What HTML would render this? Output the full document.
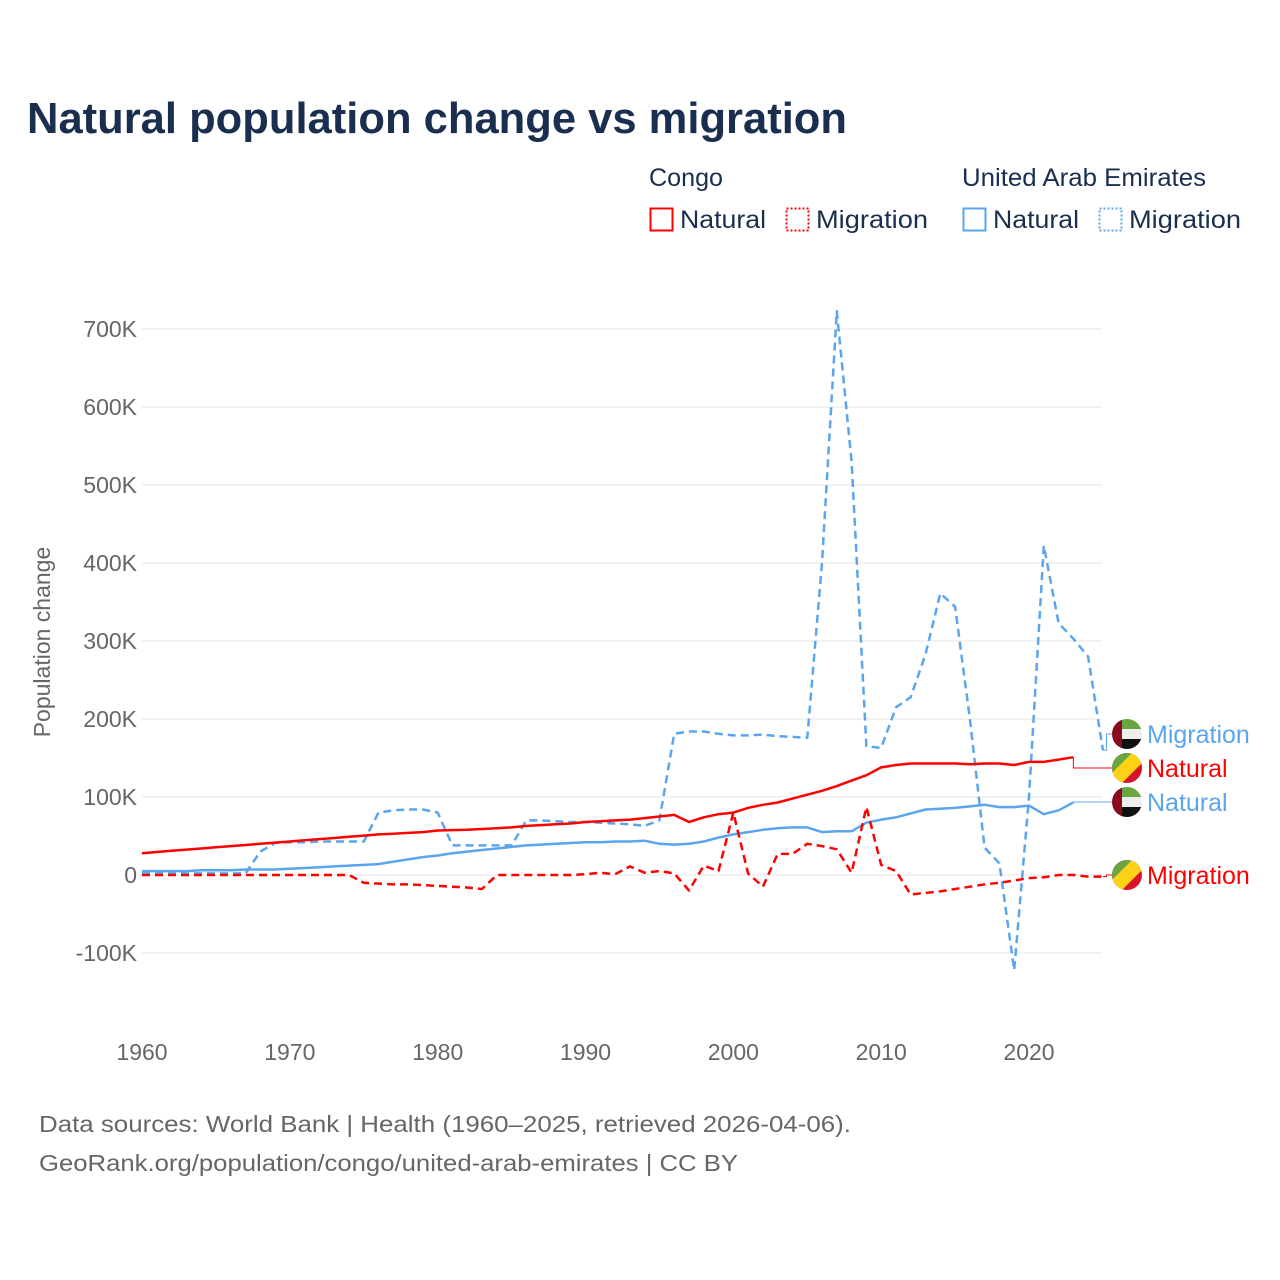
<!DOCTYPE html>
<html><head><meta charset="utf-8"><style>
html,body{margin:0;padding:0;background:#fff;}
svg{display:block;font-family:"Liberation Sans",sans-serif;}
</style></head><body>
<svg id="chart" width="1280" height="1280" viewBox="0 0 1280 1280">
<defs>
<clipPath id="cc"><circle cx="0" cy="0" r="15"/></clipPath>
<g id="uae"><g clip-path="url(#cc)"><rect x="-15" y="-15" width="30" height="10" fill="#6aa640"/><rect x="-15" y="-5" width="30" height="10" fill="#eee"/><rect x="-15" y="5" width="30" height="10" fill="#111"/><rect x="-15" y="-15" width="10" height="30" fill="#8a0a1e"/></g></g>
<g id="cg"><g clip-path="url(#cc)"><rect x="-15" y="-15" width="30" height="30" fill="#d8132a"/><polygon points="-15,-15 15,-15 -15,15" fill="#6aa640"/><polygon points="5,-15 15,-15 15,-5 -5,15 -15,15 -15,5" fill="#fcd116"/></g></g>
</defs>
<text x="27" y="133" font-size="44" font-weight="bold" fill="#1a2e4f" textLength="820" lengthAdjust="spacingAndGlyphs">Natural population change vs migration</text>
<g font-size="25" fill="#1a2e4f">
<text x="649" y="186" textLength="74" lengthAdjust="spacingAndGlyphs">Congo</text>
<text x="962" y="186" textLength="244" lengthAdjust="spacingAndGlyphs">United Arab Emirates</text>
<g><rect x="650.5" y="208.5" width="22" height="22" fill="none" stroke="#f00" stroke-width="2"/><text x="680" y="228" textLength="86" lengthAdjust="spacingAndGlyphs">Natural</text></g>
<g><rect x="786.5" y="208.5" width="22" height="22" fill="none" stroke="#f00" stroke-width="2" stroke-dasharray="2,2"/><text x="816" y="228" textLength="112" lengthAdjust="spacingAndGlyphs">Migration</text></g>
<g><rect x="963.5" y="208.5" width="22" height="22" fill="none" stroke="#5aa5ee" stroke-width="2"/><text x="993" y="228" textLength="86" lengthAdjust="spacingAndGlyphs">Natural</text></g>
<g><rect x="1099.5" y="208.5" width="22" height="22" fill="none" stroke="#5aa5ee" stroke-width="2" stroke-dasharray="2,2"/><text x="1129" y="228" textLength="112" lengthAdjust="spacingAndGlyphs">Migration</text></g>
</g>
<g id="grid"></g>
<g id="yt" font-size="23" fill="#666" text-anchor="end"></g>
<g id="xt" font-size="23" fill="#666" text-anchor="middle"></g>
<text transform="translate(50,642) rotate(-90)" font-size="23" fill="#666" text-anchor="middle">Population change</text>
<g id="series"></g>
<g id="labels" font-size="25"></g>
<text x="39" y="1132" font-size="23" fill="#666" textLength="812" lengthAdjust="spacingAndGlyphs">Data sources: World Bank | Health (1960–2025, retrieved 2026-04-06).</text>
<text x="39" y="1171" font-size="23" fill="#666" textLength="699" lengthAdjust="spacingAndGlyphs">GeoRank.org/population/congo/united-arab-emirates | CC BY</text>
</svg>
<script>
const years=[];for(let y=1960;y<=2025;y++)years.push(y);
const yTicks=[-100,0,100,200,300,400,500,600,700];
const yTickLabels=["-100K","0","100K","200K","300K","400K","500K","600K","700K"];
const xTicks=[1960,1970,1980,1990,2000,2010,2020];
const congoNatural=[28,29.5,31,32.5,34,35.5,37,38.5,40,41.5,43,44.5,46,47.5,49,50.5,52,53,54,55,57,57.5,58,59,60,61,63,64,65,66,68,69,70,71,73,75,77,68,74,78,80,86,90,93,98,103,108,114,121,128,138,141,143,143,143,143,142,143,143,141,145,145,148,151,null,null];
const congoMigration=[0,0,0,0,0,0,0,0,0,0,0,0,0,0,0,-10,-11,-12,-12,-13,-14,-15,-16,-18,0,0,0,0,0,0,1,3,1,11,3,5,2,-20,12,5,80,2,-15,27,27,40,37,33,3,87,13,5,-25,-23,-21,-18,-15,-12,-10,-7,-4,-3,0,0,-2,-2];
const uaeNatural=[5,5,5,5,6,6,6,7,7,7,8,9,10,11,12,13,14,17,20,23,25,28,30,32,34,36,38,39,40,41,42,42,43,43,44,40,39,40,43,48,52,55,58,60,61,61,55,56,56,67,71,74,79,84,85,86,88,90,87,87,89,78,83,93,null,null];
const uaeMigration=[2,2,2,2,2,2,2,2,30,41,42,42,43,43,43,43,80,83,84,84,80,38,38,38,38,38,70,70,69,68,68,67,66,65,63,70,181,184,184,181,179,179,180,178,177,176,400,723,530,165,163,215,228,283,361,344,200,35,15,-122,100,422,323,303,280,160];
const X=y=>142+(y-1960)*(887/60);
const Y=v=>875-v*0.78;
const NS="http://www.w3.org/2000/svg";
function mk(t,a,p){const e=document.createElementNS(NS,t);for(const k in a)e.setAttribute(k,a[k]);p.appendChild(e);return e;}
const grid=document.getElementById('grid'),yt=document.getElementById('yt'),xt=document.getElementById('xt');
yTicks.forEach((v,i)=>{
 const l=mk('line',{x1:142,x2:1102,y1:Y(v),y2:Y(v),stroke:'#e6e6e6','stroke-width':1},grid);
 
 
 const t=mk('text',{x:137,y:Y(v)+8},yt);t.textContent=yTickLabels[i];
 
 
});
xTicks.forEach(y=>{const t=mk('text',{x:X(y),y:1060},xt);t.textContent=y;
 
 });
const ser=document.getElementById('series');
function path(arr,color,dash,name){
 let d='';arr.forEach((v,i)=>{if(v==null)return;d+=(d?'L':'M')+X(years[i]).toFixed(1)+','+Y(v).toFixed(1);});
 const p=mk('path',{d:d,fill:'none',stroke:color,'stroke-width':2.5,'stroke-dasharray':dash,'stroke-linejoin':'round'},ser);
 
 
}
path(uaeMigration,'#5aa5ee','8,5','line-uae-migration');
path(uaeNatural,'#5aa5ee','none','line-uae-natural');
path(congoMigration,'#f00','8,5','line-congo-migration');
path(congoNatural,'#f00','none','line-congo-natural');
function last(a){for(let i=a.length-1;i>=0;i--)if(a[i]!=null)return [years[i],a[i]];}
const lab=document.getElementById('labels');
const ends=[[uaeMigration,'#5aa5ee','uae','Migration',734,'label-uae-migration'],[congoNatural,'#f00','cg','Natural',768,'label-congo-natural'],[uaeNatural,'#5aa5ee','uae','Natural',802,'label-uae-natural'],[congoMigration,'#f00','cg','Migration',875,'label-congo-migration']];
ends.forEach(e=>{
 const [yr,v]=last(e[0]);const x0=X(yr),y0=Y(v);
 const g=mk('g',{},lab);
 
 
 const xm=x0<1090?x0:x0+(1110-x0)/2;
 mk('path',{d:`M${x0},${y0}H${xm}V${e[4]}H1112`,fill:'none',stroke:e[1],'stroke-width':1},g);
 mk('use',{href:'#'+e[2],x:1127,y:e[4]},g);
 const t=mk('text',{x:1147,y:e[4]+9,fill:e[1]},g);t.textContent=e[3];
});
</script>
</body></html>
